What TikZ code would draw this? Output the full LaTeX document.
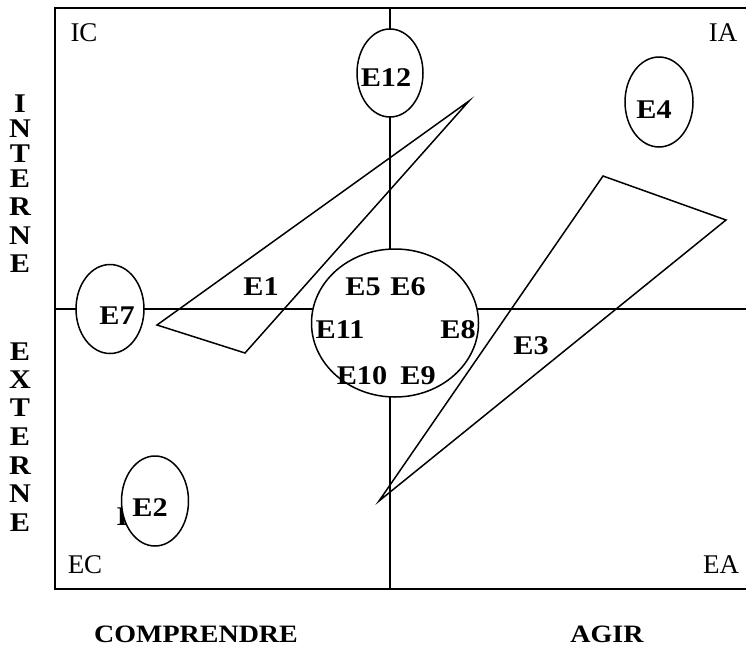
\documentclass[tikz,border=0pt]{standalone}
\usepackage{fontspec}
\setmainfont{Liberation Serif}
\newfontfamily\wideserif[FakeStretch=1.12]{Liberation Serif}
\usetikzlibrary{shapes.geometric}
\begin{document}
\begin{tikzpicture}[x=1pt,y=-1pt,
  frame/.style={line width=2.2pt},
  axis/.style={line width=1.6pt},
  zone/.style={line width=1.5pt, line join=miter},
  blob/.style={ellipse, draw, fill=white, line width=1.5pt, inner sep=0pt},
  lab/.style={font=\wideserif\bfseries\fontsize{27}{27}\selectfont, inner sep=0pt},
  corner/.style={font=\fontsize{27}{27}\selectfont, inner sep=0pt},
  vlet/.style={font=\wideserif\bfseries\fontsize{27}{27}\selectfont, inner sep=0pt},
  axlab/.style={font=\wideserif\bfseries\fontsize{25}{25}\selectfont, inner sep=0pt}]
\useasboundingbox (0,0) rectangle (746,653);
% frame
\coordinate (tl) at (55,8);
\coordinate (tr) at (750,8);
\coordinate (bl) at (55,589);
\coordinate (br) at (750,589);
\draw[frame] (tr) -- (tl) -- (bl) -- (br);
% axes
\coordinate (vt) at (390,8);
\coordinate (vb) at (390,589);
\coordinate (hl) at (55,309);
\coordinate (hr) at (750,309);
\draw[axis] (vt) -- (vb);
\draw[axis] (hl) -- (hr);
% corner labels
\node[corner] (ic) at (84,33) {IC};
\node[corner] (ia) at (723,33) {IA};
\node[corner] (ec) at (85,565) {EC};
\node[corner] (ea) at (721,565) {EA};
% triangles
\coordinate (a1) at (157,325);
\coordinate (a2) at (469,101);
\coordinate (a3) at (245,353);
\draw[zone] (a1) -- (a2) -- (a3) -- cycle;
\coordinate (b1) at (379,501);
\coordinate (b2) at (603,176);
\coordinate (b3) at (726,220);
\draw[zone] (b1) -- (b2) -- (b3) -- cycle;
\node[lab] (e1) at (261,287) {E1};
\node[lab] (e3) at (531,346) {E3};
% hidden letter behind E2
\node[lab] (hid) at (127,517) {E};
% ellipses
\node[blob, minimum width=66pt, minimum height=88pt] (c12) at (390,73) {};
\node[blob, minimum width=68pt, minimum height=90pt] (c4) at (659,102) {};
\node[blob, minimum width=68pt, minimum height=89pt] (c7) at (110,309) {};
\node[blob, minimum width=67pt, minimum height=90pt] (c2) at (155,501) {};
\node[blob, minimum width=167pt, minimum height=148pt] (cc) at (395,323) {};
% labels
\node[lab] (e12) at (386,78) {E12};
\node[lab] (e4) at (654,110) {E4};
\node[lab] (e7) at (117,316) {E7};
\node[lab] (e2) at (150,508) {E2};
\node[lab] (e5) at (363,287) {E5};
\node[lab] (e6) at (408,287) {E6};
\node[lab] (e11) at (340,330) {E11};
\node[lab] (e8) at (458,330) {E8};
\node[lab] (e10) at (362,376) {E10};
\node[lab] (e9) at (418,376) {E9};
% vertical words
\foreach \l/\yy [count=\i] in {I/104,N/129,T/154,E/179,R/207,N/236,E/264}
  \node[vlet] (in\i) at (20,\yy) {\l};
\foreach \l/\yy [count=\i] in {E/352,X/380,T/408,E/437,R/466,N/494,E/523}
  \node[vlet] (ex\i) at (20,\yy) {\l};
% bottom labels
\node[axlab] (comp) at (196,634) {COMPRENDRE};
\node[axlab] (agir) at (607,634) {AGIR};
\end{tikzpicture}
\end{document}
